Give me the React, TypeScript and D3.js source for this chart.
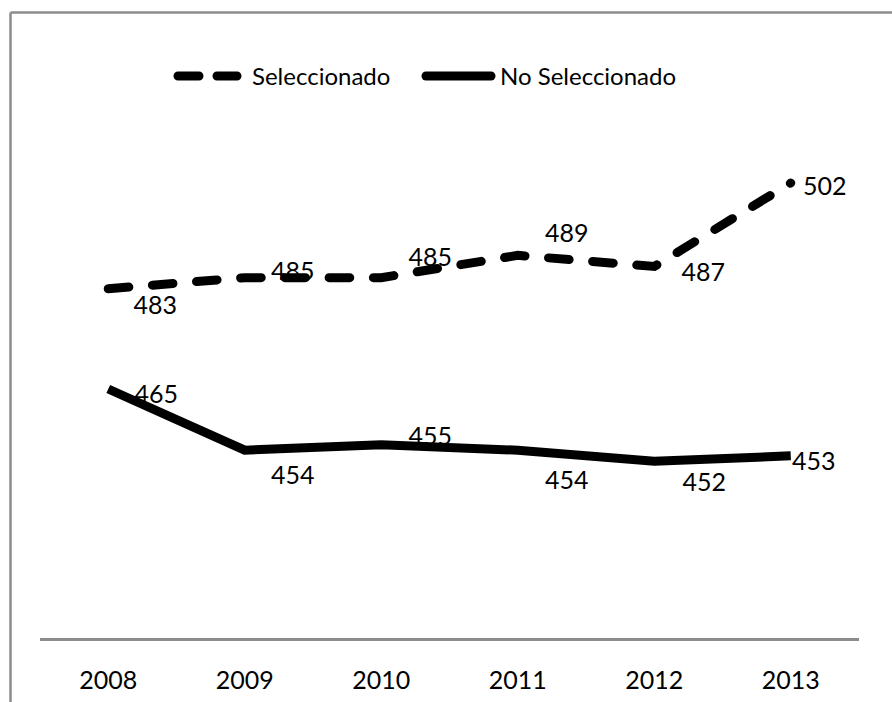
import React from 'react';
import * as d3 from 'd3';

const years = ['2008', '2009', '2010', '2011', '2012', '2013'];
const seleccionado = [483, 485, 485, 489, 487, 502];
const noSeleccionado = [465, 454, 455, 454, 452, 453];
const seriesNames = ['Seleccionado', 'No Seleccionado'];

// label offsets (label centre relative to point), styling only
const selOffsets = [[47, 15], [48, -8], [49, -22], [49, -23], [49, 4], [34, 2]];
const noSelOffsets = [[48, 4], [48, 24], [49, -10], [49, 29], [50, 20], [23, 4]];

const W = 892, H = 702;
const FONT = 'Lato, "Open Sans", sans-serif';

export default function App() {
  const x = d3.scaleBand().domain(years).range([40, 859]);
  const cx = (d: string) => (x(d) as number) + x.bandwidth() / 2;
  const y = d3.scaleLinear().domain([420, 520]).range([639.5, 82.8]);
  const line = d3.line<number>().x((_, i) => cx(years[i])).y((v) => y(v));

  // fit the dash period so the dashed line ends with a dot on the last point
  let L = 0;
  for (let i = 1; i < seleccionado.length; i++) {
    L += Math.hypot(cx(years[i]) - cx(years[i - 1]), y(seleccionado[i]) - y(seleccionado[i - 1]));
  }
  const n = Math.round(L / 45);
  const p = (L - 0.5) / n;
  const dash = `${(p * 21) / 45} ${(p * 24) / 45}`;

  const labels = (vals: number[], offs: number[][]) =>
    vals.map((v, i) => (
      <text key={i} x={cx(years[i]) + offs[i][0]} y={y(v) + offs[i][1]} textAnchor="middle"
        dominantBaseline="central" fontSize={25} fontFamily={FONT} fill="#000">{v}</text>
    ));

  return (
    <svg width={W} height={H} style={{ position: 'absolute', left: 0, top: 0, background: '#fff' }}>
      <rect x={0} y={0} width={W} height={H} fill="#fff" />
      {/* chart border (top + left) */}
      <line x1={10.5} y1={12.5} x2={W} y2={12.5} stroke="#8c8c8c" strokeWidth={2.5} />
      <line x1={10.5} y1={12.5} x2={10.5} y2={H} stroke="#8c8c8c" strokeWidth={2.5} />
      {/* legend */}
      <line x1={178} y1={76} x2={237} y2={76} stroke="#000" strokeWidth={9} strokeLinecap="round" strokeDasharray="21 18" />
      <text x={252} y={85} fontSize={24} fontFamily={FONT} fill="#000">{seriesNames[0]}</text>
      <line x1={426} y1={76} x2={491} y2={76} stroke="#000" strokeWidth={9} strokeLinecap="round" />
      <text x={500} y={85} fontSize={24} fontFamily={FONT} fill="#000">{seriesNames[1]}</text>
      {/* axis */}
      <line x1={40} y1={y(420)} x2={859} y2={y(420)} stroke="#8c8c8c" strokeWidth={3} />
      {years.map((yr) => (
        <text key={yr} x={cx(yr)} y={689} textAnchor="middle" fontSize={25} fontFamily={FONT} fill="#000">{yr}</text>
      ))}
      {/* series */}
      <path d={line(seleccionado) || ''} fill="none" stroke="#000" strokeWidth={9} strokeLinecap="round" strokeDasharray={dash} />
      <path d={line(noSeleccionado) || ''} fill="none" stroke="#000" strokeWidth={9} />
      {labels(seleccionado, selOffsets)}
      {labels(noSeleccionado, noSelOffsets)}
    </svg>
  );
}
